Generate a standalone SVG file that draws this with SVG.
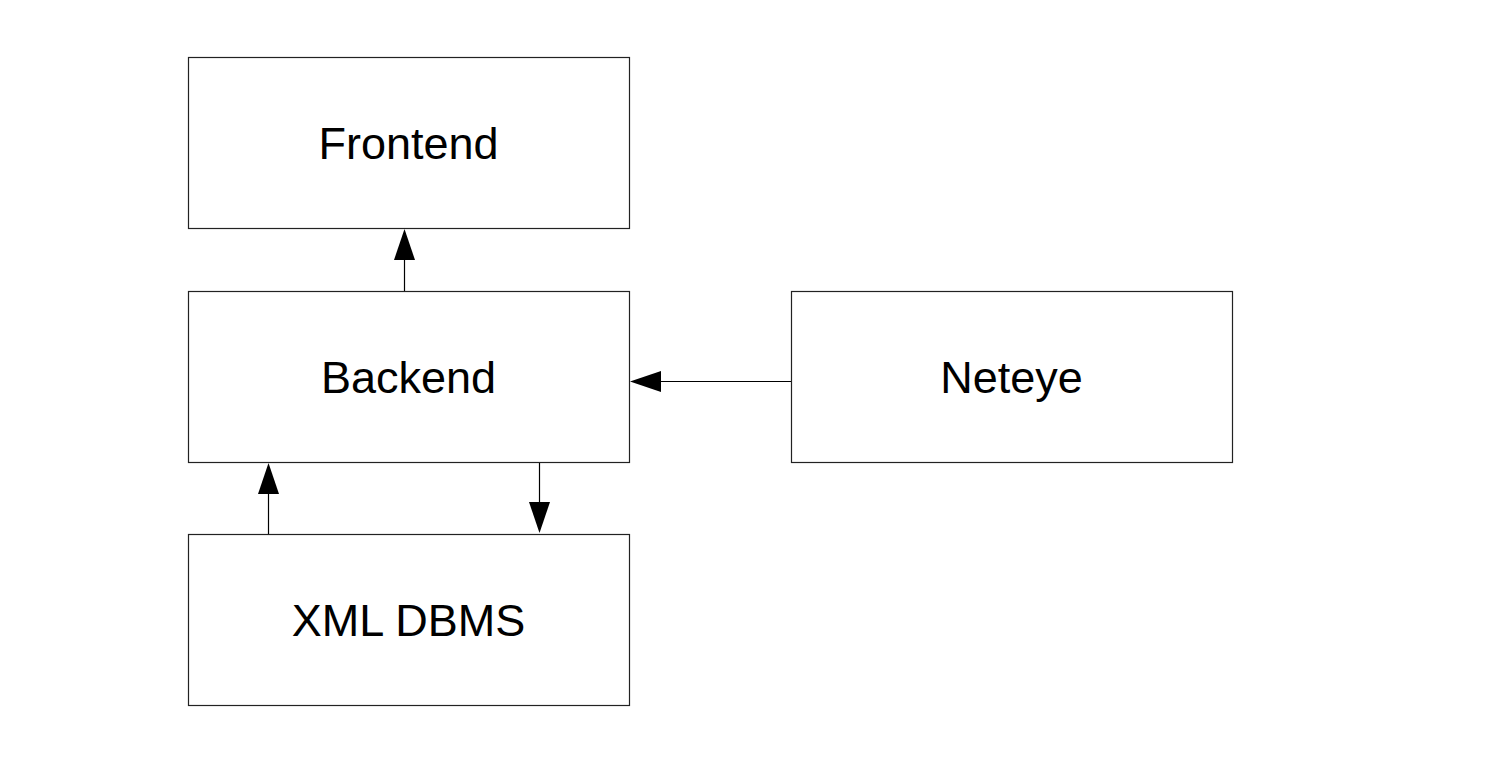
<svg xmlns="http://www.w3.org/2000/svg" width="1488" height="768" viewBox="0 0 1488 768">
<style>
.box{fill:#fff;stroke:#222;stroke-width:1.2}
.lbl{font-family:"Liberation Sans",Arial,sans-serif;font-size:45px;fill:#000;text-anchor:middle}
.edge{stroke:#000;stroke-width:1.2;fill:none}
.head{fill:#000}
</style>
<rect width="1488" height="768" fill="#fff"/>
<g id="frontend"><rect class="box" x="188.5" y="57.5" width="441" height="171"/><text class="lbl" x="408.5" y="159">Frontend</text></g>
<g id="backend"><rect class="box" x="188.5" y="291.5" width="441" height="171"/><text class="lbl" x="408.5" y="393">Backend</text></g>
<g id="neteye"><rect class="box" x="791.5" y="291.5" width="441" height="171"/><text class="lbl" x="1011.5" y="393">Neteye</text></g>
<g id="xmldbms"><rect class="box" x="188.5" y="534.5" width="441" height="171"/><text class="lbl" x="408.5" y="636">XML DBMS</text></g>
<g id="connectors">
<line class="edge" x1="404.5" y1="291" x2="404.5" y2="258"/>
<polygon class="head" points="404.5,229 394,260 415,260"/>
<line class="edge" x1="791" y1="381.5" x2="660" y2="381.5"/>
<polygon class="head" points="630,381.5 661,371 661,392"/>
<line class="edge" x1="268.5" y1="534" x2="268.5" y2="492"/>
<polygon class="head" points="268.5,463 258,494 279,494"/>
<line class="edge" x1="539.5" y1="463" x2="539.5" y2="504"/>
<polygon class="head" points="539.5,533 529,502 550,502"/>
</g>
</svg>
